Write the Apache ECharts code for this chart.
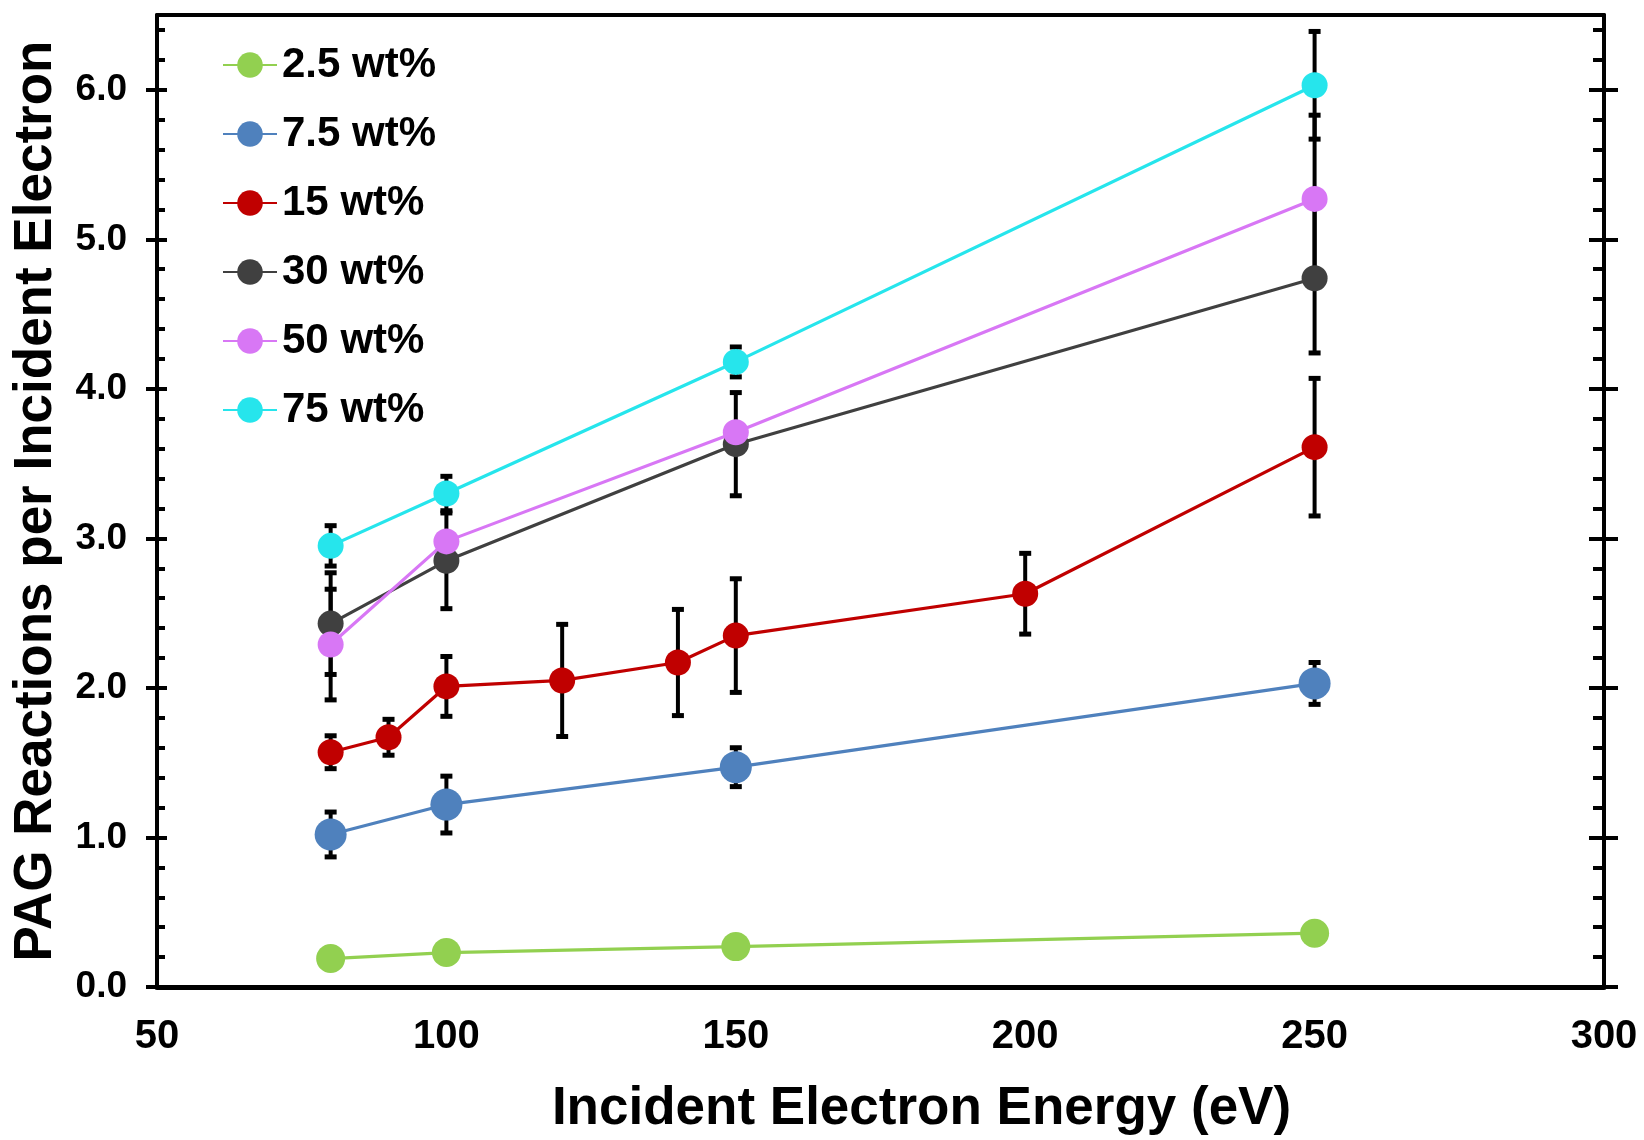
<!DOCTYPE html>
<html>
<head>
<meta charset="utf-8">
<title>PAG Reactions per Incident Electron</title>
<script src="https://cdn.jsdelivr.net/npm/echarts@6/dist/echarts.min.js"></script>
<style>
    html, body { margin: 0; padding: 0; background: #fff; }
    #chart { width: 1644px; height: 1140px; }
</style>
</head>
<body>
<div id="chart"></div>
<script>
// Incident electron energy (eV)
const energies = [80, 100, 150, 250];
const energies15 = [80, 90, 100, 120, 140, 150, 200, 250];

const seriesNames = ['2.5 wt%', '7.5 wt%', '15 wt%', '30 wt%', '50 wt%', '75 wt%'];
const seriesColors = ['#92D050', '#4F81BD', '#C00000', '#404040', '#D877F5', '#26E5EC'];

// PAG reactions per incident electron
const pag2_5 = [0.19, 0.23, 0.27, 0.36];
const pag7_5 = [1.02, 1.22, 1.47, 2.03];
const pag15 = [1.57, 1.67, 2.01, 2.05, 2.17, 2.35, 2.63, 3.61];
const pag30 = [2.43, 2.85, 3.63, 4.74];
const pag50 = [2.29, 2.98, 3.71, 5.27];
const pag75 = [2.95, 3.30, 4.18, 6.03];

// error bar half heights (null = no bar)
const err2_5 = [null, null, null, null];
const err7_5 = [0.15, 0.19, 0.13, 0.14];
const err15 = [0.11, 0.12, 0.20, 0.375, 0.355, 0.38, 0.27, 0.46];
const err30 = [0.34, 0.32, 0.345, 0.50];
const err50 = [0.37, null, null, 0.56];
const err75 = [0.135, 0.115, 0.10, 0.36];

// axis ticks
const xTicks = [50, 100, 150, 200, 250, 300];
const yTicks = [0, 1, 2, 3, 4, 5, 6];
const yMax = 6.5;
const yMinorStep = 0.2;

const FONT = '"Liberation Sans", Arial, sans-serif';

const groups = [
    {x: energies, y: pag2_5, err: err2_5, size: 29},
    {x: energies, y: pag7_5, err: err7_5, size: 32},
    {x: energies15, y: pag15, err: err15, size: 26},
    {x: energies, y: pag30, err: err30, size: 26},
    {x: energies, y: pag50, err: err50, size: 26},
    {x: energies, y: pag75, err: err75, size: 26}
];

const lineSeries = groups.map(function (g, i) {
    return {
        name: seriesNames[i],
        type: 'line',
        xAxisIndex: 0,
        yAxisIndex: 0,
        data: g.x.map(function (x, k) { return [x, g.y[k]]; }),
        symbol: 'circle',
        symbolSize: g.size,
        color: seriesColors[i],
        itemStyle: {color: seriesColors[i]},
        lineStyle: {width: 3.2, color: seriesColors[i]},
        emphasis: {disabled: true},
        z: 3
    };
});

// error bars: [x, low, high]
const errData = [];
groups.forEach(function (g) {
    g.x.forEach(function (x, k) {
        if (g.err[k] != null) {
            errData.push([x, g.y[k] - g.err[k], g.y[k] + g.err[k]]);
        }
    });
});

const errorSeries = {
    name: 'error',
    type: 'custom',
    xAxisIndex: 0,
    yAxisIndex: 0,
    z: 1,
    data: errData,
    encode: {x: 0, y: [1, 2]},
    renderItem: function (params, api) {
        const x = api.value(0);
        const lo = api.coord([x, api.value(1)]);
        const hi = api.coord([x, api.value(2)]);
        const cap = 6;
        const bar = {stroke: '#000', lineWidth: 4};
        const capStyle = {stroke: '#000', lineWidth: 5};
        return {
            type: 'group',
            children: [
                {type: 'line', shape: {x1: lo[0], y1: lo[1], x2: hi[0], y2: hi[1]}, style: bar},
                {type: 'line', shape: {x1: hi[0] - cap, y1: hi[1], x2: hi[0] + cap, y2: hi[1]}, style: capStyle},
                {type: 'line', shape: {x1: lo[0] - cap, y1: lo[1], x2: lo[0] + cap, y2: lo[1]}, style: capStyle}
            ]
        };
    }
};

const gridBox = {left: 157, right: 40, top: 15, bottom: 153, outerBoundsMode: 'none', containLabel: false};
const black = {color: '#000', width: 4};

function hiddenX(gridIndex) {
    return {gridIndex: gridIndex, type: 'value', min: xTicks[0], max: xTicks[xTicks.length - 1], show: false};
}

// y axis that only draws ticks (for the inside tick marks)
function tickY(gridIndex, position, len, opts) {
    return Object.assign({
        gridIndex: gridIndex,
        type: 'value',
        position: position,
        min: yTicks[0],
        max: yMax,
        axisLine: {show: false},
        axisLabel: {show: false},
        splitLine: {show: false},
        axisTick: {show: true, inside: true, length: len, lineStyle: black}
    }, opts);
}

const option = {
    animation: false,
    backgroundColor: '#fff',
    grid: [gridBox, gridBox, gridBox],
    legend: {
        orient: 'vertical',
        left: 222,
        top: 44,
        padding: 0,
        itemWidth: 54,
        itemHeight: 32,
        itemGap: 27,
        selectedMode: false,
        data: seriesNames,
        textStyle: {fontSize: 42, fontWeight: 'bold', color: '#000', fontFamily: FONT}
    },
    xAxis: [
        {
            gridIndex: 0,
            type: 'value',
            position: 'bottom',
            min: xTicks[0],
            max: xTicks[xTicks.length - 1],
            interval: xTicks[1] - xTicks[0],
            axisLine: {show: true, onZero: false, lineStyle: {color: '#000', width: 5}},
            axisTick: {show: false},
            splitLine: {show: false},
            axisLabel: {margin: 30, fontSize: 40, fontWeight: 'bold', color: '#000', fontFamily: FONT},
            name: 'Incident Electron Energy (eV)',
            nameLocation: 'middle',
            nameGap: 96,
            nameTextStyle: {fontSize: 53, fontWeight: 'bold', color: '#000', fontFamily: FONT, padding: [0, 0, 0, 82]}
        },
        {
            gridIndex: 0,
            type: 'value',
            position: 'top',
            min: xTicks[0],
            max: xTicks[xTicks.length - 1],
            axisLine: {show: true, onZero: false, lineStyle: black},
            axisTick: {show: false},
            axisLabel: {show: false},
            splitLine: {show: false}
        },
        hiddenX(1),
        hiddenX(2)
    ],
    yAxis: [
        {
            gridIndex: 0,
            type: 'value',
            position: 'left',
            min: yTicks[0],
            max: yMax,
            axisLine: {show: true, onZero: false, lineStyle: black},
            axisTick: {show: true, inside: false, length: 11, customValues: yTicks, lineStyle: black},
            axisLabel: {
                customValues: yTicks,
                formatter: function (v) { return v.toFixed(1); },
                margin: 30, fontSize: 37, fontWeight: 'bold', color: '#000', fontFamily: FONT
            },
            splitLine: {show: false},
            name: 'PAG Reactions per Incident Electron',
            nameLocation: 'middle',
            nameGap: 94,
            nameTextStyle: {fontSize: 53, fontWeight: 'bold', color: '#000', fontFamily: FONT}
        },
        {
            gridIndex: 0,
            type: 'value',
            position: 'right',
            min: yTicks[0],
            max: yMax,
            axisLine: {show: true, onZero: false, lineStyle: black},
            axisTick: {show: true, inside: false, length: 14, customValues: yTicks, lineStyle: black},
            axisLabel: {show: false},
            splitLine: {show: false}
        },
        // major ticks inside
        tickY(1, 'left', 10, {axisTick: {show: true, inside: true, length: 10, customValues: yTicks, lineStyle: black}}),
        tickY(1, 'right', 15, {axisTick: {show: true, inside: true, length: 15, customValues: yTicks, lineStyle: black}}),
        // minor ticks inside
        tickY(2, 'left', 8, {interval: yMinorStep}),
        tickY(2, 'right', 11, {interval: yMinorStep})
    ],
    series: [errorSeries].concat(lineSeries)
};

const chart = echarts.init(document.getElementById('chart'));
chart.setOption(option);
</script>
</body>
</html>
